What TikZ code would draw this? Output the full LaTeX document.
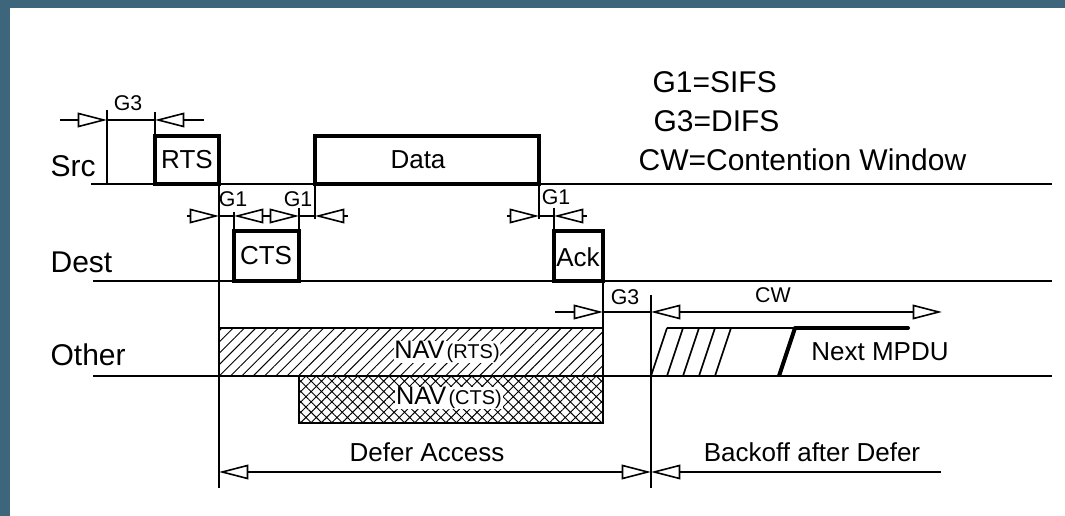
\documentclass[tikz,border=0pt]{standalone}
\usepackage{fontspec}
\setmainfont{Liberation Sans}
\usetikzlibrary{arrows.meta,patterns.meta}
\definecolor{cframe}{HTML}{3D667D}

\begin{document}
\begin{tikzpicture}[
    x=0.75pt, y=-0.75pt,
    wire/.style={line width=1.2pt},
    boxline/.style={line width=3pt},
    tip/.style={wire, -{Triangle[length=22pt, width=11pt, fill=white]}},
    dim/.style={wire, {Triangle[length=22pt, width=11pt, fill=white]}-{Triangle[length=22pt, width=11pt, fill=white]}},
    big/.style={font=\fontsize{22.5}{24}\selectfont, inner sep=1pt},
    mid/.style={font=\fontsize{19.5}{21}\selectfont, inner sep=1pt},
    small/.style={font=\fontsize{16}{18}\selectfont, inner sep=1pt},
]
\useasboundingbox (0,0) rectangle (1065,516);
% slide frame
\fill[cframe] (0,0) rectangle (1065,8);
\fill[cframe] (0,0) rectangle (10,516);
% legend
\node[big, anchor=west] (lgsifs) at (651,82)  {G1=SIFS};
\node[big, anchor=west] (lgdifs) at (652,121) {G3=DIFS};
\node[big, anchor=west] (lgcw)   at (637,160) {CW=Contention Window};
% stations
\node[big, anchor=west] (src)   at (49,166) {Src};
\node[big, anchor=west] (dest)  at (49,262) {Dest};
\node[big, anchor=west] (other) at (49,355) {Other};
\draw[wire] (91,184) coordinate (srcL) -- (1052,184) coordinate (srcR);
\draw[wire] (93,281) coordinate (destL) -- (1052,281) coordinate (destR);
\draw[wire] (93,376) coordinate (othL) -- (1052,376) coordinate (othR);
% frames on the medium
\draw[boxline] (155,136) rectangle (219,184);
\node[mid] (rts) at (187,160) {RTS};
\draw[boxline] (234,231) rectangle (299,281);
\node[mid] (cts) at (266,256) {CTS};
\draw[boxline] (315,136) rectangle (539,184);
\node[mid] (data) at (418,160) {Data};
\draw[boxline] (554,231) rectangle (603,281);
\node[mid] (ack) at (578,257) {Ack};
% time marks
\coordinate (mdifs) at (107,110);
\coordinate (mrts)  at (155,112);
\coordinate (mrtsE) at (219,184);
\coordinate (mcts)  at (234,212);
\coordinate (mctsE) at (299,208);
\coordinate (mdata) at (315,184);
\coordinate (mdatE) at (539,184);
\coordinate (mack)  at (554,208);
\coordinate (mackE) at (603,281);
\coordinate (mcw)   at (651,295);
\draw[wire] (mdifs) -- (107,184);
\draw[wire] (mrts) -- (155,136);
\draw[wire] (mrtsE) -- (219,488);
\draw[wire] (mcts) -- (234,231);
\draw[wire] (mctsE) -- (299,231);
\draw[wire] (mdata) -- (315,219);
\draw[wire] (mdatE) -- (539,219);
\draw[wire] (mack) -- (554,231);
\draw[wire] (mackE) -- (603,423);
\draw[wire] (mcw) -- (651,488);
% G3 before RTS
\node[small] (gdifs) at (128,103) {G3};
\draw[tip] (60,120) -- (107,120);
\draw[wire] (107,120) -- (155,120);
\draw[tip] (204,120) -- (155,120);
% G1 gaps
\node[small] (gsifsA) at (233,199) {G1};
\node[small] (gsifsB) at (298,199) {G1};
\node[small] (gsifsC) at (556,197) {G1};
\draw[tip] (187,216) -- (219,216);
\draw[wire] (219,216) -- (234,216);
\draw[dim] (234,216) -- (299,216);
\draw[wire] (299,216) -- (315,216);
\draw[tip] (348,216) -- (315,216);
\draw[tip] (507,216) -- (539,216);
\draw[wire] (539,216) -- (554,216);
\draw[tip] (587,216) -- (554,216);
% NAV
\draw[wire, pattern={Lines[angle=45, distance=6pt, line width=0.7pt]}] (219,328) rectangle (603,376);
\draw[wire, pattern={Hatch[angle=45, distance=5.5pt, line width=0.7pt]}] (299,376) rectangle (603,423);
\node[fill=white, inner sep=0.5pt] (navrts) at (447,352)
  {{\fontsize{19}{21}\selectfont NAV}\,{\fontsize{15}{17}\selectfont(RTS)}};
\node[fill=white, inner sep=0.5pt] (navcts) at (449,398)
  {{\fontsize{19}{21}\selectfont NAV}\,{\fontsize{15}{17}\selectfont(CTS)}};
% G3 and contention window
\node[small] (gdifsB) at (625,297) {G3};
\node[small] (cw) at (773,295) {CW};
\draw[tip] (555,312) -- (603,312);
\draw[wire] (603,312) -- (651,312);
\draw[dim] (651,312) -- (942,312);
% backoff slots
\draw[wire] (651,376) -- (667,328);
\draw[wire] (667,376) -- (683,328);
\draw[wire] (683,376) -- (699,328);
\draw[wire] (699,376) -- (715,328);
\draw[wire] (715,376) -- (731,328);
\draw[wire] (667,328) -- (795,328);
\draw[boxline, line cap=round] (795,328) -- (908,328);
\draw[boxline] (779,376) -- (795,328);
\node[mid] (mpdu) at (880,352) {Next MPDU};
% defer / backoff
\draw[dim] (219,472) -- (651,472);
\draw[tip] (941,472) -- (651,472);
\node[mid] (defer) at (427,452) {Defer Access};
\node[mid] (backoff) at (812,452) {Backoff after Defer};
\end{tikzpicture}
\end{document}
